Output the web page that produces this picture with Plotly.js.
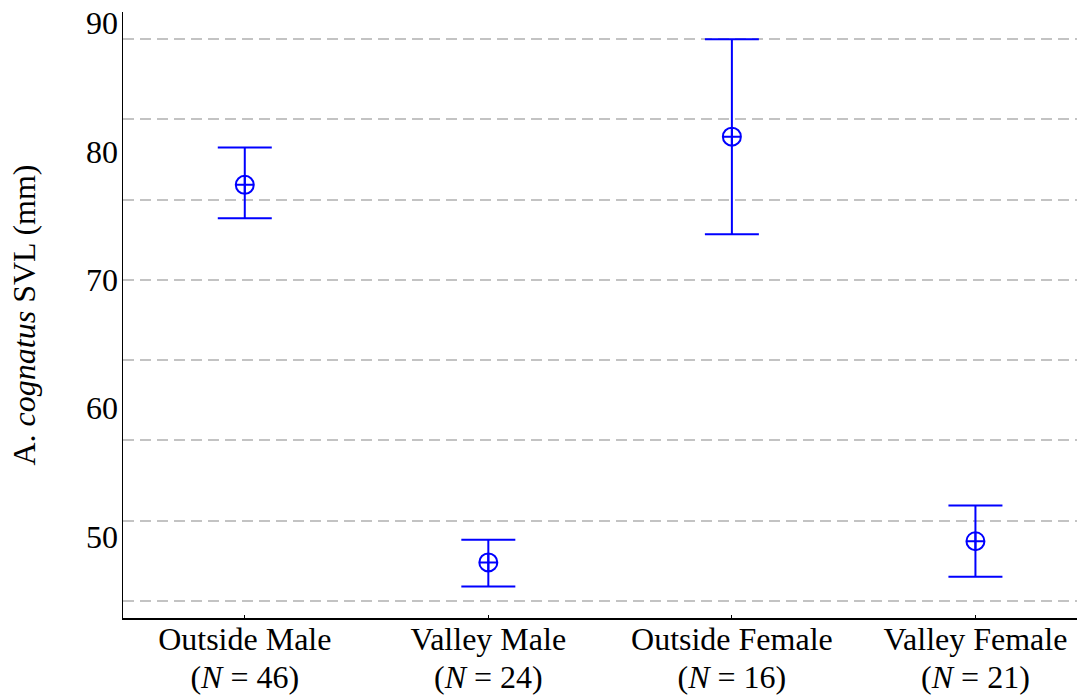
<!DOCTYPE html>
<html>
<head>
<meta charset="utf-8">
<script src="https://cdn.plot.ly/plotly-3.0.1.min.js"></script>
<style>html,body{margin:0;padding:0;background:#fff;}#chart{width:1077px;height:696px;}</style>
</head>
<body>
<div id="chart"></div>
<script>
const categories = ["Outside Male", "Valley Male", "Outside Female", "Valley Female"];
const sampleSizes = [46, 24, 16, 21];
const means = [77.4, 48.0, 81.15, 49.65];
const upper = [80.3, 49.77, 88.73, 52.44];
const lower = [74.8, 46.13, 73.56, 46.89];
const yTickVals = [50, 60, 70, 80, 90];
const gridVals = [45, 51.25, 57.5, 63.75, 70, 76.25, 82.5, 88.75];

const sizeText = sampleSizes.map(n => "(<i>N</i> = " + n + ")");
const errPlus = upper.map((u, i) => u - means[i]);
const errMinus = lower.map((l, i) => means[i] - l);

const font = "'Liberation Serif', 'Times New Roman', serif";
const xRange = [-0.5, 3.417];
const yRange = [43.67, 90.86];

const trace = {
  x: categories,
  y: means,
  type: "scatter",
  mode: "markers",
  marker: {symbol: "circle-cross-open", size: 18, color: "#0000ff", line: {width: 2, color: "#0000ff"}},
  error_y: {type: "data", symmetric: false, array: errPlus, arrayminus: errMinus,
            color: "#0000ff", thickness: 2, width: 27},
  showlegend: false,
  hoverinfo: "skip"
};

const layout = {
  width: 1077, height: 696,
  margin: {l: 123, r: 0, t: 12, b: 78},
  paper_bgcolor: "#ffffff", plot_bgcolor: "#ffffff",
  font: {family: font, size: 32, color: "#000"},
  xaxis: {
    type: "category",
    range: xRange,
    categoryarray: categories, categoryorder: "array",
    tickvals: categories, ticktext: categories,
    showgrid: false, zeroline: false,
    showline: true, linecolor: "#000", linewidth: 1.5,
    ticks: "inside", ticklen: 3, tickcolor: "#000", tickwidth: 1,
    ticklabelstandoff: -8,
    tickfont: {family: font, size: 32, color: "#000"}
  },
  xaxis2: {
    type: "category",
    overlaying: "x",
    anchor: "y",
    side: "bottom",
    range: xRange,
    categoryarray: categories, categoryorder: "array",
    tickvals: categories, ticktext: sizeText,
    showgrid: false, zeroline: false, showline: false,
    ticks: "",
    ticklabelstandoff: 37,
    tickfont: {family: font, size: 32, color: "#000"}
  },
  yaxis: {
    range: yRange,
    tickvals: yTickVals,
    ticktext: yTickVals.map(String),
    showgrid: false, zeroline: false,
    showline: true, linecolor: "#000", linewidth: 1.5,
    ticks: "",
    ticklabelstandoff: -3,
    tickfont: {family: font, size: 32, color: "#000"},
    title: {text: "A. <i>cognatus</i> SVL (mm)",
            font: {family: font, size: 32, color: "#000"}, standoff: 41}
  },
  yaxis2: {
    overlaying: "y",
    range: yRange,
    tickvals: gridVals,
    showticklabels: false,
    ticks: "",
    showgrid: true, gridcolor: "#c3c3c3", gridwidth: 2, griddash: "11px,6px",
    zeroline: false, showline: false
  }
};

const gridTrace = {x: categories, y: means, yaxis: "y2", mode: "markers",
  marker: {opacity: 0}, showlegend: false, hoverinfo: "skip"};
const labelTrace = {x: categories, y: means, xaxis: "x2", mode: "markers",
  marker: {opacity: 0}, showlegend: false, hoverinfo: "skip"};

Plotly.newPlot("chart", [gridTrace, labelTrace, trace], layout, {displayModeBar: false, staticPlot: true});
</script>
</body>
</html>
